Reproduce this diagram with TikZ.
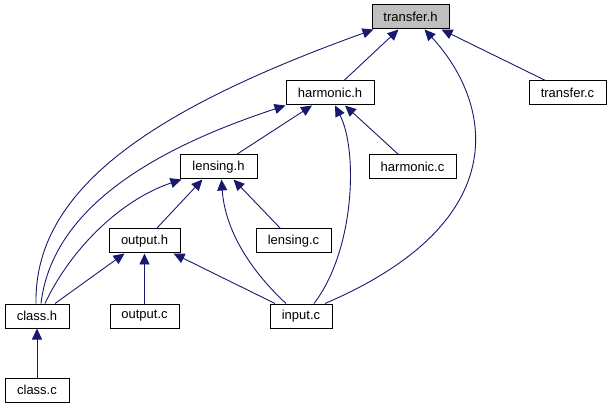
\documentclass[tikz,border=0pt]{standalone}
\usepackage{fontspec}
\setmainfont{Liberation Sans}
\usetikzlibrary{arrows.meta}
\definecolor{edgecol}{HTML}{191970}
\definecolor{mainfill}{HTML}{BFBFBF}
\begin{document}
\begin{tikzpicture}[x=1pt,y=-1pt,
  box/.style={draw=black,line width=1pt,fill=white,minimum height=24pt,inner sep=0pt,font=\fontsize{13}{15}\selectfont},
  edge/.style={draw=edgecol,line width=0.9pt,-{Triangle[length=11pt,width=10pt]}}]
\useasboundingbox (0,0) rectangle (612,411);
\fill[white] (0,0) rectangle (612,411);
% nodes
\node[box,fill=mainfill,minimum width=77pt] (th) at (410.5,17) {transfer.h};
\node[box,minimum width=88pt] (hh) at (330,93) {harmonic.h};
\node[box,minimum width=77pt] (tc) at (567.5,93) {transfer.c};
\node[box,minimum width=77pt] (lh) at (218.5,167) {lensing.h};
\node[box,minimum width=87pt] (hc) at (412.5,167) {harmonic.c};
\node[box,minimum width=71pt] (oh) at (144.5,241) {output.h};
\node[box,minimum width=75pt] (lc) at (293.5,241) {lensing.c};
\node[box,minimum width=64pt] (ch) at (37,316) {class.h};
\node[box,minimum width=69pt] (oc) at (144.5,316) {output.c};
\node[box,minimum width=62pt] (ic) at (301,316) {input.c};
\node[box,minimum width=64pt] (cc) at (37,390) {class.c};
% edges
\draw[edge] ([xshift=-1pt]ch.north) .. controls (34,190) and (150,110) .. ([xshift=2pt]th.south west);
\draw[edge] ([xshift=14pt]hh.north) -- ([xshift=-12pt]th.south);
\draw[edge] ([xshift=24pt]ic.north) .. controls (520,220) and (490,100) .. ([xshift=14pt]th.south);
\draw[edge] ([xshift=-22pt]tc.north) -- ([xshift=-8pt]th.south east);
\draw[edge] ([xshift=4pt]ch.north) .. controls (52,210) and (150,150) .. (hh.south west);
\draw[edge] ([xshift=18pt]lh.north) -- ([xshift=-18pt]hh.south);
\draw[edge] ([xshift=13pt]ic.north) .. controls (355,250) and (358,150) .. ([xshift=5pt]hh.south);
\draw[edge] ([xshift=-14pt]hc.north) -- ([xshift=15pt]hh.south);
\draw[edge] ([xshift=8pt]ch.north) .. controls (70,250) and (120,200) .. ([xshift=2pt]lh.south west);
\draw[edge] ([xshift=12pt]oh.north) -- ([xshift=-16pt]lh.south);
\draw[edge] ([xshift=-15pt]ic.north) .. controls (250,270) and (225,230) .. ([xshift=3pt]lh.south);
\draw[edge] ([xshift=-13pt]lc.north) -- ([xshift=15pt]lh.south);
\draw[edge] ([xshift=18pt]ch.north) -- ([xshift=16pt]oh.south west);
\draw[edge] (oc.north) -- (oh.south);
\draw[edge] ([xshift=-26pt]ic.north) -- ([xshift=-7pt]oh.south east);
\draw[edge] (cc.north) -- (ch.south);
\end{tikzpicture}
\end{document}
